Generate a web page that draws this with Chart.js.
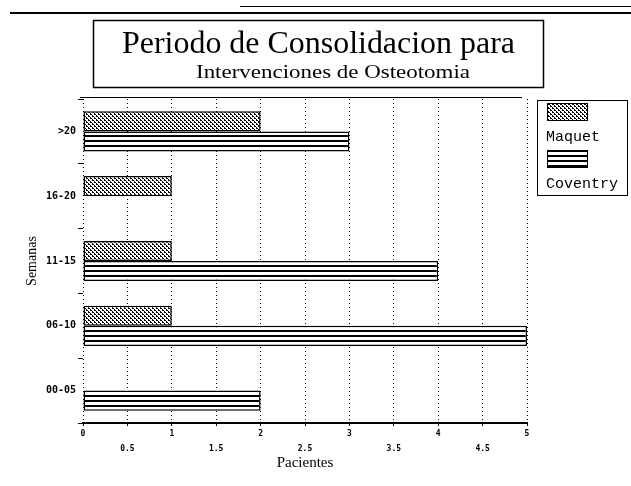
<!DOCTYPE html>
<html>
<head>
<meta charset="utf-8">
<script src="https://cdn.jsdelivr.net/npm/chart.js@4/dist/chart.umd.min.js"></script>
<style>
  html, body { margin: 0; padding: 0; background: #fff; }
  #wrap { width: 631px; height: 486px; }
</style>
</head>
<body>
<div id="wrap"><canvas id="consolChart" width="631" height="486"></canvas></div>
<script>
const titulo = 'Periodo de Consolidacion para';
const subtitulo = 'Intervenciones de Osteotomia';
const semanas = ['>20', '16-20', '11-15', '06-10', '00-05'];
const maquet = [2, 1, 1, 1, 0];
const coventry = [3, 0, 4, 5, 2];
const xTicks = [0, 0.5, 1, 1.5, 2, 2.5, 3, 3.5, 4, 4.5, 5];

// hatch fills like the old plotter output
function dotPattern() {
    const c = document.createElement('canvas');
    c.width = 4; c.height = 4;
    const g = c.getContext('2d');
    g.fillStyle = '#fff';
    g.fillRect(0, 0, 4, 4);
    g.fillStyle = '#000';
    g.fillRect(0, 0, 2, 1);
    g.fillRect(2, 1, 1, 1);
    g.fillRect(2, 2, 2, 1);
    g.fillRect(0, 3, 1, 1);
    return g.createPattern(c, 'repeat');
}

function linePattern() {
    const c = document.createElement('canvas');
    c.width = 4; c.height = 5;
    const g = c.getContext('2d');
    g.fillStyle = '#fff';
    g.fillRect(0, 0, 4, 5);
    g.fillStyle = '#000';
    g.fillRect(0, 0, 4, 2);
    return g.createPattern(c, 'repeat');
}

function fitText(ctx, text, cx, y, width, font) {
    ctx.font = font;
    const w = ctx.measureText(text).width;
    ctx.save();
    ctx.translate(cx, y);
    ctx.scale(width / w, 1);
    ctx.textAlign = 'center';
    ctx.textBaseline = 'alphabetic';
    ctx.fillText(text, 0, 0);
    ctx.restore();
}

const decoPlugin = {
    id: 'deco',
    afterDraw(chart) {
        const ctx = chart.ctx;
        ctx.save();
        ctx.strokeStyle = '#000';
        ctx.fillStyle = '#000';

        // rules at the top of the sheet
        ctx.lineWidth = 1;
        ctx.beginPath(); ctx.moveTo(240, 6.5); ctx.lineTo(631, 6.5); ctx.stroke();
        ctx.lineWidth = 2;
        ctx.beginPath(); ctx.moveTo(10, 13); ctx.lineTo(631, 13); ctx.stroke();
        ctx.lineWidth = 1;
        ctx.beginPath(); ctx.moveTo(80, 97.5); ctx.lineTo(522, 97.5); ctx.stroke();

        // title box
        ctx.lineWidth = 1.5;
        ctx.strokeRect(93.5, 20.5, 450, 67);
        fitText(ctx, titulo, 318.5, 53, 393, '31px "Liberation Serif"');
        fitText(ctx, subtitulo, 333, 78, 274, '19px "Liberation Serif"');

        // legend
        ctx.lineWidth = 1;
        ctx.strokeRect(537.5, 100.5, 90, 95);
        ctx.font = '15px "Liberation Mono"';
        ctx.textBaseline = 'middle';
        ctx.textAlign = 'left';
        chart.data.datasets.forEach((ds, i) => {
            const y = 103 + i * 47;
            ctx.fillStyle = ds.backgroundColor;
            ctx.fillRect(547, y, 41, 18);
            ctx.strokeRect(547.5, y + 0.5, 40, 17);
            ctx.fillStyle = '#000';
            ctx.fillText(ds.label, 546, y + 34);
        });
        ctx.restore();
    }
};

const ctx = document.getElementById('consolChart').getContext('2d');
const consolChart = new Chart(ctx, {
    type: 'bar',
    data: {
        labels: semanas,
        datasets: [{
            label: 'Maquet',
            data: maquet,
            backgroundColor: dotPattern(),
            borderColor: '#000',
            borderWidth: 1.5,
            borderSkipped: false
        },
        {
            label: 'Coventry',
            data: coventry,
            backgroundColor: linePattern(),
            borderColor: '#000',
            borderWidth: 1.5,
            borderSkipped: false
        }]
    },
    options: {
        indexAxis: 'y',
        responsive: false,
        animation: false,
        devicePixelRatio: 1,
        categoryPercentage: 0.62,
        barPercentage: 1,
        layout: {
            padding: { left: 0, right: 104, top: 99, bottom: 0 }
        },
        plugins: {
            legend: { display: false },
            tooltip: { enabled: false }
        },
        scales: {
            x: {
                type: 'linear',
                min: 0,
                max: 5,
                afterBuildTicks: (scale) => {
                    scale.ticks = xTicks.map(v => ({ value: v }));
                },
                afterFit: (scale) => { scale.height = 63; },
                grid: {
                    color: '#000',
                    lineWidth: 1,
                    drawTicks: true,
                    tickLength: 3
                },
                border: { display: true, color: '#000', width: 2, dash: [1, 3] },
                ticks: {
                    color: '#000',
                    padding: 1,
                    maxRotation: 0,
                    autoSkip: false,
                    font: { family: 'DejaVu Sans Mono', size: 8, weight: 'bold', lineHeight: 1.8 },
                    callback: function (value) {
                        const v = Number(value);
                        return Number.isInteger(v) ? String(v) : ['', String(v)];
                    }
                },
                title: {
                    display: true,
                    text: 'Pacientes',
                    color: '#000',
                    font: { family: 'Liberation Serif', size: 15 },
                    padding: { top: 0, bottom: 14 }
                }
            },
            y: {
                afterFit: (scale) => { scale.width = 83; },
                grid: {
                    display: true,
                    drawOnChartArea: false,
                    drawTicks: true,
                    tickLength: 5,
                    offset: true,
                    color: '#000'
                },
                border: { display: false },
                ticks: {
                    color: '#000',
                    padding: 2,
                    font: { family: 'DejaVu Sans Mono', size: 10, weight: 'bold' }
                },
                title: {
                    display: true,
                    text: 'Semanas',
                    color: '#000',
                    font: { family: 'Liberation Serif', size: 14 },
                    padding: { top: 24, bottom: 0 }
                }
            }
        }
    },
    plugins: [decoPlugin]
});
</script>
</body>
</html>
